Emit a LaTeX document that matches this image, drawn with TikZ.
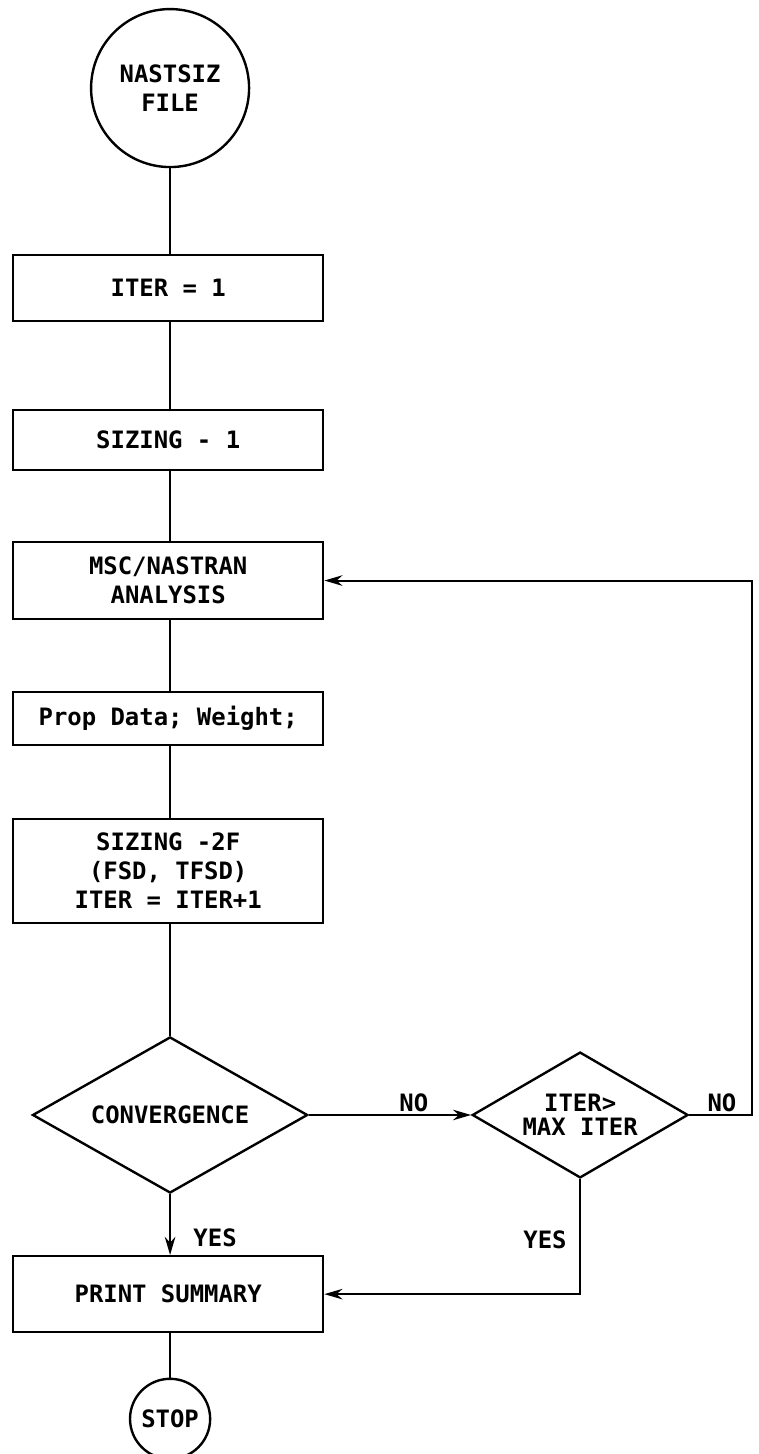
\documentclass[tikz,border=0pt]{standalone}
\usepackage{fontspec}
\usepackage{tikz}
\usetikzlibrary{arrows.meta, shapes.geometric}
\newfontfamily\flowfont{DejaVu Sans Mono}

\begin{document}
\begin{tikzpicture}[
    font=\flowfont\bfseries\fontsize{18}{22}\selectfont,
    stepbox/.style={draw, line width=1.8pt, minimum width=8.2cm, align=center, inner sep=2pt},
    term/.style={draw, circle, line width=1.8pt, align=center, inner sep=0pt},
    test/.style={draw, diamond, line width=1.8pt, align=center, inner sep=0pt},
    line/.style={line width=1.7pt},
    arr/.style={-{Stealth[length=4.8mm, width=2.8mm]}, line width=1.5pt}
  ]
    \useasboundingbox (0,0) rectangle (20.06,-38.47);

    \node[term, minimum size=4.18cm] (nastsiz) at (4.5,-2.33) {NASTSIZ\\FILE};
    \node[stepbox, minimum height=1.75cm] (iter)  at (4.45,-7.62)  {ITER = 1};
    \node[stepbox, minimum height=1.59cm] (siz1)  at (4.45,-11.64) {SIZING - 1};
    \node[stepbox, minimum height=2.04cm] (msc)   at (4.45,-15.36) {MSC/NASTRAN\\ANALYSIS};
    \node[stepbox, minimum height=1.40cm] (prop)  at (4.45,-19.01) {Prop Data; Weight;};
    \node[stepbox, minimum height=2.75cm] (siz2)  at (4.45,-23.04) {SIZING -2F\\(FSD, TFSD)\\ITER = ITER+1};
    \node[test, minimum width=7.28cm, minimum height=4.13cm, aspect=1.76] (conv) at (4.5,-29.50) {CONVERGENCE};
    \node[test, minimum width=5.71cm, minimum height=3.33cm, aspect=1.71] (itmax) at (15.35,-29.50) {ITER>\\[-4pt]MAX ITER};
    \node[stepbox, minimum height=2.01cm] (print) at (4.45,-34.24) {PRINT SUMMARY};
    \node[term, minimum size=2.12cm] (stop) at (4.5,-37.54) {STOP};
    \coordinate (back) at (19.9,-29.50);

    \draw[line] (nastsiz.south) -- (nastsiz.south |- iter.north);
    \draw[line] (iter.south -| nastsiz.south) -- (siz1.north -| nastsiz.south);
    \draw[line] (siz1.south -| nastsiz.south) -- (msc.north -| nastsiz.south);
    \draw[line] (msc.south -| nastsiz.south) -- (prop.north -| nastsiz.south);
    \draw[line] (prop.south -| nastsiz.south) -- (siz2.north -| nastsiz.south);
    \draw[line] (siz2.south -| conv.north) -- (conv.north);
    \draw[arr] (conv.south) -- (conv.south |- print.north);
    \draw[line] (print.south -| stop.north) -- (stop.north);

    \draw[arr] (conv.east) -- (itmax.west);
    \draw[arr] (itmax.east) -- (back) |- (msc.east);
    \draw[arr] (itmax.south) |- (print.east);

    \node (no1)  at (10.95,-29.18) {NO};
    \node (no2)  at (19.10,-29.18) {NO};
    \node (yes1) at (5.69,-32.76)  {YES};
    \node (yes2) at (14.42,-32.81) {YES};
\end{tikzpicture}
\end{document}
